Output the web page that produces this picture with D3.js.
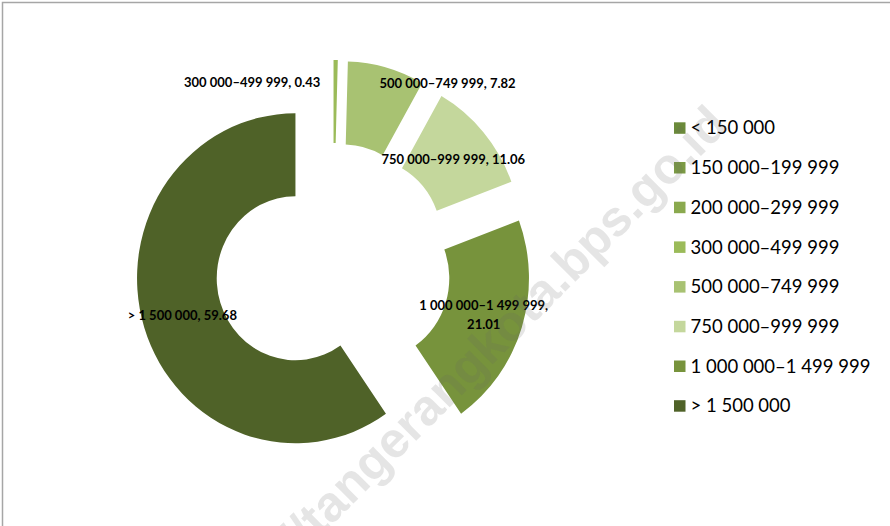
<!DOCTYPE html>
<html>
<head>
<meta charset="utf-8">
<script src="https://cdn.jsdelivr.net/npm/d3@7"></script>
<style>
  html, body { margin: 0; padding: 0; background: #fff; }
  svg { display: block; }
</style>
</head>
<body>
<div id="chart"></div>
<script>
// data
const categories = ["< 150 000", "150 000–199 999", "200 000–299 999", "300 000–499 999",
                    "500 000–749 999", "750 000–999 999", "1 000 000–1 499 999", "> 1 500 000"];
const values = [0, 0, 0, 0.43, 7.82, 11.06, 21.01, 59.68];
const colors = ["#6b8a3a", "#7b9a44", "#8aa94e", "#9bbb59", "#a8c272", "#c4d79c", "#77933c", "#4f6228"];

// constants
const width = 890
const height = 526
const cx = 333
const cy = 266
const radius_outer = 165
const radius_inner = 82
const explode = 41
const squash = 0.96   // picture is a bit narrower than tall
const label_font = "Lato, 'Open Sans', sans-serif"

// labels Excel moved away from the slice centre
const label_nudge = { 3: [-83, -19], 4: [72, -24] };

const svg = d3.select("#chart")
    .append("svg")
        .attr("width", width)
        .attr("height", height);

svg.append("rect")
    .attr("width", width)
    .attr("height", height)
    .attr("fill", "white");

// frame (only top and left visible)
svg.append("path")
    .attr("d", `M2.5,${height} L2.5,2.5 L${width},2.5`)
    .attr("stroke", "#a6a6a6")
    .attr("stroke-width", 1.5)
    .attr("fill", "none");

const table = categories.map((c, i) => ({ cat: c, value: values[i], color: colors[i], idx: i }));

const pie = d3.pie()
    .sort(null)
    .value(d => d.value);
const arcs = pie(table);

const arc = d3.arc()
    .innerRadius(radius_inner)
    .outerRadius(radius_outer);

function offset(d) {
    const mid = (d.startAngle + d.endAngle) / 2;
    return [cx + squash * explode * Math.sin(mid), cy - explode * Math.cos(mid)];
}

// slices
svg.append("g")
    .selectAll("path")
    .data(arcs.filter(d => d.data.value > 0))
    .join("path")
        .attr("transform", d => {
            const [ox, oy] = offset(d);
            return `translate(${ox}, ${oy}) scale(${squash}, 1)`;
        })
        .attr("d", arc)
        .attr("fill", d => d.data.color);

// data labels
const labels = svg.append("g")
    .selectAll("text")
    .data(arcs.filter(d => d.data.value > 0))
    .join("text")
        .attr("text-anchor", "middle")
        .style("font-family", label_font)
        .style("font-size", "13px")
        .style("font-weight", "bold")
        .attr("fill", "black");

labels.each(function (d) {
    const [ox, oy] = offset(d);
    const c = arc.centroid(d);
    const nudge = label_nudge[d.data.idx] || [0, 0];
    const x = ox + squash * c[0] + nudge[0];
    const y = oy + c[1] + nudge[1];
    const lines = d.data.idx === 6
        ? [d.data.cat + ",", d3.format(".2f")(d.data.value)]
        : [d.data.cat + ", " + d3.format(".2f")(d.data.value)];
    const line_h = 18.5;
    const t = d3.select(this);
    lines.forEach((l, k) => {
        t.append("tspan")
            .attr("x", x)
            .attr("y", y + (k - (lines.length - 1) / 2) * line_h)
            .attr("dy", "0.35em")
            .text(l);
    });
});

// legend
const legend = svg.append("g")
    .attr("transform", "translate(674, 128)");

const rows = legend.selectAll("g")
    .data(table)
    .join("g")
        .attr("transform", (d, i) => `translate(0, ${i * 39.7})`);

rows.append("rect")
    .attr("x", 0)
    .attr("y", -5.7)
    .attr("width", 11.5)
    .attr("height", 11.5)
    .attr("fill", d => d.color);

rows.append("text")
    .attr("x", 16.5)
    .attr("y", 0)
    .attr("dy", "0.35em")
    .style("font-family", label_font)
    .style("font-size", "18.5px")
    .attr("fill", "black")
    .text(d => d.cat);

// watermark, anchored at its end (top right)
svg.append("text")
    .attr("transform", "translate(730, 127) rotate(-45)")
    .attr("text-anchor", "end")
    .style("font-family", "'Liberation Sans', Arial, sans-serif")
    .style("font-size", "50px")
    .style("font-weight", "bold")
    .attr("fill", "#646464")
    .attr("fill-opacity", 0.17)
    .text("https://tangerangkota.bps.go.id");
</script>
</body>
</html>
